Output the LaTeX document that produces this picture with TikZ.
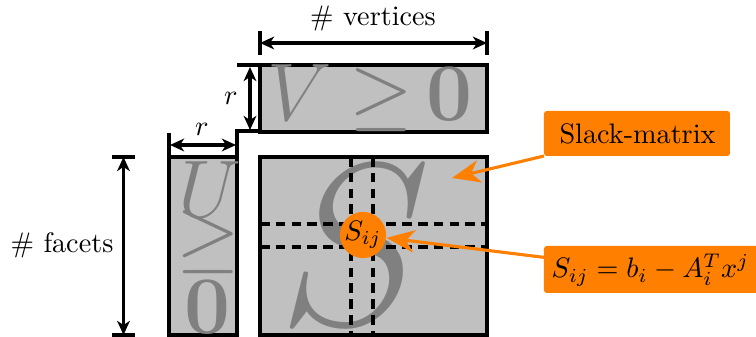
\RequirePackage{fix-cm}
\documentclass[tikz,border=0pt]{standalone}
\usetikzlibrary{arrows.meta,fit,calc}
\definecolor{orng}{RGB}{255,128,0}
\definecolor{matfill}{RGB}{192,192,192}
\definecolor{bigtxt}{RGB}{128,128,128}
\tikzset{
  matbox/.style={draw, line width=1.1pt, fill=matfill, inner sep=0pt, outer sep=0pt, rectangle},
  bigsym/.style={text=bigtxt, inner sep=0pt, anchor=base, font=\fontsize{29}{30}\selectfont},
  bigS/.style={text=bigtxt, inner sep=0pt, anchor=base, font=\fontsize{82}{84}\selectfont},
  dim/.style={line width=1.1pt, {Stealth[length=5pt,width=4.5pt,inset=1.5pt]}-{Stealth[length=5pt,width=4.5pt,inset=1.5pt]}},
  dimbar/.style={line width=1.4pt},
  dashline/.style={line width=1.2pt, dash pattern=on 3.4pt off 2.2pt},
  obox/.style={fill=orng, rounded corners=1pt, inner sep=0pt, outer sep=0pt},
  callout/.style={draw=orng, line width=1.1pt, -{Stealth[length=10pt,width=8pt,inset=3pt]}},
}
\begin{document}
\begin{tikzpicture}[x=0.3546pt,y=-0.3546pt]
\useasboundingbox (0,0) rectangle (756,337);
% matrices
\node[matbox, fit={(260,65)(487,132)}] (V) {};
\node[matbox, fit={(169,157)(237,335)}] (U) {};
\node[matbox, fit={(260,157)(487,335)}] (S) {};
% big symbols
\node[bigsym] (Vl) at (300,121) {$V$};
\node[bigsym] (Vge) at (381,121) {$\geq$};
\node[bigsym] (V0) at (450,121) {$\mathbf{0}$};
\node[bigsym] (Ul) at (210,218) {$U$};
\node[bigsym] (Uge) at (208,263) {$\geq$};
\node[bigsym] (U0) at (208,334) {$\mathbf{0}$};
\node[bigS] (Sl) at (355,325) {$S$};
% dashed lines
\draw[dashline] (S.west |- 0,224) -- (S.east |- 0,224);
\draw[dashline] (S.west |- 0,247) -- (S.east |- 0,247);
\draw[dashline] (351,0 |- S.north) -- (351,0 |- S.south);
\draw[dashline] (373,0 |- S.north) -- (373,0 |- S.south);
\node[matbox, fill=none, fit={(260,157)(487,335)}] (Sframe) {};
% entry circle
\node[circle, fill=orng, minimum size={35*0.3546pt}, inner sep=0pt] (c) at (363,235) {$S_{ij}$};
% vertices dimension
\draw[dimbar] (V.west |- 0,31) -- (V.west |- 0,55);
\draw[dimbar] (V.east |- 0,31) -- (V.east |- 0,55);
\draw[dim] (V.west |- 0,43) -- (V.east |- 0,43);
\node (nv) at (373,18) {\# vertices};
% r vertical
\draw[line width=1.1pt] (237,0 |- V.north) -- (V.north west);
\draw[line width=1.1pt] (U.north east) -- (237,131) -- (V.west |- 0,131);
\draw[dim] (250,67) -- (250,130);
\node (rv) at (231,98) {$r$};
% r horizontal
\draw[line width=1.1pt] (U.north west) -- (169,133);
\draw[dim] (170,145) -- (236,145);
\node (rh) at (202,129) {$r$};
% facets dimension
\draw[dimbar] (112,0 |- S.north) -- (135,0 |- S.north);
\draw[dimbar] (112,0 |- S.south) -- (135,0 |- S.south);
\draw[dim] (123.5,0 |- S.north) -- (123.5,0 |- S.south);
\node (nf) at (62,245) {\# facets};
% callouts
\node[obox, fit={(544,111)(730,156)}] (slack) {};
\node[anchor=base, inner sep=0pt] (slacktxt) at (637.5,144) {Slack-matrix};
\node[obox, fit={(544,246)(775,293)}] (formula) {};
\node[anchor=base west, inner sep=0pt] (formtxt) at (551,278) {$S_{ij} = b_i - A_i^T x^j$};
\coordinate (sp) at (452,178);
\draw[callout] (slack.south west) -- (sp);
\draw[callout] ([yshift=4.3pt]formula.west) -- (c);
\end{tikzpicture}
\end{document}
